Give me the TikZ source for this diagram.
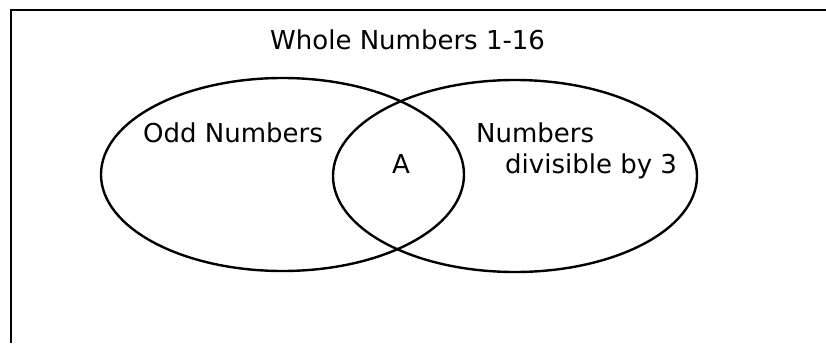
\documentclass[tikz,border=0pt]{standalone}
\usepackage{fontspec}
\setmainfont{DejaVu Sans}
\usetikzlibrary{shapes.geometric}
\begin{document}
\begin{tikzpicture}[x=1pt,y=-1pt,
  setshape/.style={draw=black,line width=2.4pt,ellipse,inner sep=0pt},
  label/.style={inner sep=0pt,anchor=base west,font=\fontsize{26}{31}\selectfont}]
\useasboundingbox (0,0) rectangle (826,343);
\fill[white] (0,0) rectangle (826,343);
\coordinate (bl) at (11,343);
\coordinate (tl) at (11,10);
\coordinate (tr) at (826,10);
\draw[line width=2.6pt] (bl) -- (tl) -- (tr);
\node[setshape,minimum width=363pt,minimum height=193pt] (odd) at (282.5,174.5) {};
\node[setshape,minimum width=364pt,minimum height=192pt] (three) at (515,176) {};
\node[label] (title) at (270,49) {Whole Numbers 1-16};
\node[label] (oddlbl) at (143,142) {Odd Numbers};
\node[label,anchor=base] (alb) at (401,173) {A};
\node[label] (numlbl) at (476,142) {Numbers};
\node[label] (divlbl) at (505,173) {divisible by 3};
\end{tikzpicture}
\end{document}
